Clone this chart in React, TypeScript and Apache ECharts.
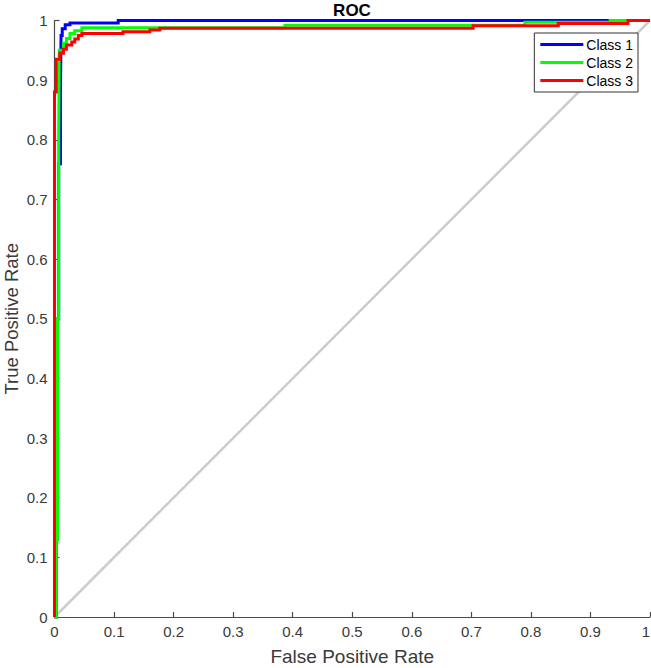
import React, { useEffect, useRef } from "react";
import * as echarts from "echarts";

// Class 1 ROC corner points (step 'end': each point starts a horizontal run)
const class1Fpr = [0, 0.003, 0.005, 0.007, 0.01, 0.011, 0.013, 0.018, 0.026, 0.107, 1];
const class1Tpr = [0, 0.13, 0.5, 0.76, 0.88, 0.975, 0.986, 0.993, 0.996, 1, 1];

const class2Fpr = [0, 0.003, 0.005, 0.007, 0.008, 0.015, 0.02, 0.026, 0.034, 0.046, 0.387, 0.79, 0.933, 1];
const class2Tpr = [0, 0.13, 0.5, 0.8, 0.95, 0.962, 0.97, 0.978, 0.983, 0.988, 0.992, 0.997, 1, 1];

const class3Fpr = [0, 0, 0.003, 0.009, 0.015, 0.02, 0.029, 0.034, 0.04, 0.046, 0.115, 0.16, 0.177, 0.703, 0.846, 0.963, 1];
const class3Tpr = [0, 0.88, 0.935, 0.945, 0.952, 0.959, 0.964, 0.969, 0.975, 0.978, 0.981, 0.984, 0.987, 0.991, 0.995, 1, 1];

const chanceX = [0, 1];
const chanceY = [0, 1];

const seriesNames = ["Class 1", "Class 2", "Class 3"];
const seriesColors = ["#0000ff", "#00ff00", "#ff0000"];

const FONT = "'Liberation Sans', Arial, Helvetica, sans-serif";

function zip(xs: number[], ys: number[]) {
  return xs.map((x, i) => [x, ys[i]]);
}

export default function App() {
  const ref = useRef<HTMLDivElement>(null);

  useEffect(() => {
    document.body.style.margin = "0";
    if (!ref.current) return;
    const chart = echarts.init(ref.current, undefined, { renderer: "svg" });
    const curves = [
      zip(class1Fpr, class1Tpr),
      zip(class2Fpr, class2Tpr),
      zip(class3Fpr, class3Tpr),
    ];
    const axisCommon = {
      type: "value" as const,
      min: 0,
      max: 1,
      interval: 0.1,
      splitLine: { show: false },
      axisLine: { show: true, lineStyle: { color: "#4a4a4a", width: 1.2 } },
      axisTick: { show: true, inside: true, length: 5, lineStyle: { color: "#4a4a4a", width: 1.2 } },
      nameLocation: "middle" as const,
      nameMoveOverlap: false,
    };
    chart.setOption({
      animation: false,
      backgroundColor: "#ffffff",
      textStyle: { fontFamily: FONT },
      grid: { left: 54.5, right: 1, top: 20.5, bottom: 51, containLabel: false, outerBoundsMode: "none" },
      xAxis: {
        ...axisCommon,
        name: "False Positive Rate",
        nameGap: 30,
        nameTextStyle: { color: "#3a3a3a", fontSize: 19, fontFamily: FONT },
        axisLabel: { color: "#3a3a3a", fontSize: 15, fontFamily: FONT, margin: 7, alignMaxLabel: "right" },
      },
      yAxis: {
        ...axisCommon,
        name: "True Positive Rate",
        nameGap: 34,
        nameTextStyle: { color: "#3a3a3a", fontSize: 18.5, fontFamily: FONT },
        axisLabel: { color: "#3a3a3a", fontSize: 15, fontFamily: FONT, margin: 7 },
      },
      graphic: [
        {
          type: "text",
          x: 352,
          y: 2,
          style: {
            text: "ROC",
            fill: "#000000",
            font: `bold 17px ${FONT}`,
            align: "center",
            verticalAlign: "top",
          },
        },
      ],
      legend: {
        data: seriesNames,
        orient: "vertical",
        right: 13,
        top: 33,
        icon: "rect",
        itemWidth: 43,
        itemHeight: 3,
        itemGap: 3,
        padding: [4, 5, 4, 6],
        backgroundColor: "#ffffff",
        borderColor: "#333333",
        borderWidth: 1,
        borderRadius: 0,
        textStyle: { color: "#000000", fontSize: 14, fontFamily: FONT, lineHeight: 15, padding: [0, 0, 0, -2] },
      },
      series: [
        {
          name: "chance",
          type: "line",
          data: zip(chanceX, chanceY),
          showSymbol: false,
          symbol: "none",
          silent: true,
          lineStyle: { color: "#cccccc", width: 2.5 },
          itemStyle: { color: "#cccccc" },
          z: 1,
        },
        ...curves.map((d, i) => ({
          name: seriesNames[i],
          type: "line",
          data: d,
          step: "end",
          showSymbol: false,
          symbol: "none",
          clip: false,
          lineStyle: { color: seriesColors[i], width: 3, join: "miter" },
          itemStyle: { color: seriesColors[i] },
          z: 2 + i,
        })),
      ],
    });
    return () => chart.dispose();
  }, []);

  return <div ref={ref} style={{ width: 651, height: 668 }} />;
}
